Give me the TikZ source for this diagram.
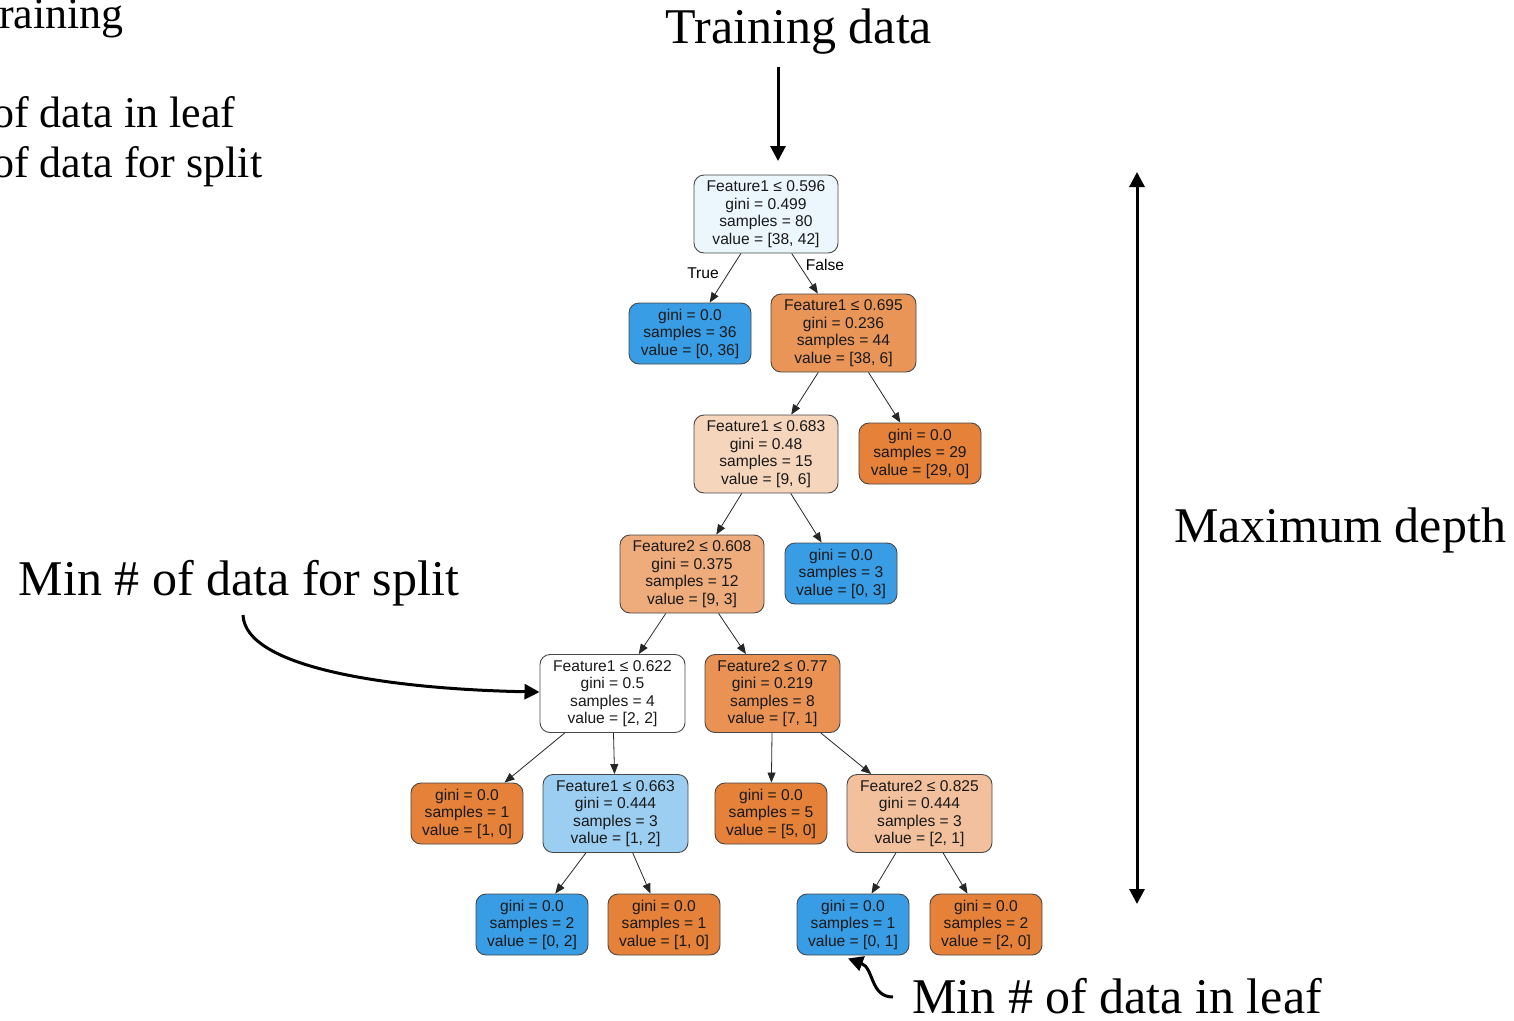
\documentclass[tikz,border=0pt]{standalone}
\usepackage{fontspec}
\setmainfont{Liberation Serif}
\newfontfamily\treefont{Liberation Sans}
\usetikzlibrary{arrows.meta,calc}

% class colours of the fitted tree (sklearn style)
\definecolor{clsA}{HTML}{E58139}
\definecolor{clsB}{HTML}{399DE5}
\definecolor{rootfill}{HTML}{ECF6FD}
\definecolor{fillC}{HTML}{E99558}
\definecolor{fillD}{HTML}{F6D5BD}
\definecolor{fillF}{HTML}{EEAB7B}
\definecolor{fillI}{HTML}{E99254}
\definecolor{fillK}{HTML}{9CCEF2}
\definecolor{fillM}{HTML}{F2C09C}

\begin{document}
\begin{tikzpicture}[x=1pt,y=-1pt,
  treebox/.style={draw=black!72, line width=0.9pt, rounded corners=10pt,
    font=\treefont\fontsize{15.6}{17.5}\selectfont, align=center,
    inner xsep=6pt, inner ysep=2pt, text=black!90},
  splitbox/.style={treebox, minimum width=145pt, minimum height=78pt},
  leafbox/.style={treebox, minimum width=112pt, minimum height=61pt},
  edgelbl/.style={font=\treefont\fontsize{15.6}{17.5}\selectfont, inner sep=0pt},
  treeedge/.style={-{Triangle[length=10pt,width=8pt]}, line width=0.8pt, black!85},
  biglbl/.style={font=\fontsize{50}{60}\selectfont, inner sep=0pt},
  smalllbl/.style={font=\fontsize{44}{52}\selectfont, inner sep=0pt},
  boldarrow/.style={line width=3pt, -{Triangle[length=15pt,width=15pt]}},
  boldboth/.style={line width=3pt, {Triangle[length=15pt,width=15pt]}-{Triangle[length=15pt,width=15pt]}}
]
\useasboundingbox (0,0) rectangle (1514,1020);

% ---- tree nodes ----
\node[splitbox, fill=rootfill, minimum width=144pt] (n1) at (766,214)
  {Feature1 ≤ 0.596\\gini = 0.499\\samples = 80\\value = [38, 42]};
\node[leafbox, fill=clsB, minimum width=122pt] (n2) at (690,333.5)
  {gini = 0.0\\samples = 36\\value = [0, 36]};
\node[splitbox, fill=fillC] (n3) at (843.5,333)
  {Feature1 ≤ 0.695\\gini = 0.236\\samples = 44\\value = [38, 6]};
\node[splitbox, fill=fillD, minimum width=144pt] (n4) at (766,454)
  {Feature1 ≤ 0.683\\gini = 0.48\\samples = 15\\value = [9, 6]};
\node[leafbox, fill=clsA, minimum width=122pt] (n5) at (920,453.5)
  {gini = 0.0\\samples = 29\\value = [29, 0]};
\node[splitbox, fill=fillF, minimum width=144pt] (n6) at (692,574)
  {Feature2 ≤ 0.608\\gini = 0.375\\samples = 12\\value = [9, 3]};
\node[leafbox, fill=clsB] (n7) at (841,573.5)
  {gini = 0.0\\samples = 3\\value = [0, 3]};
\node[splitbox, fill=white] (n8) at (612.5,693.5)
  {Feature1 ≤ 0.622\\gini = 0.5\\samples = 4\\value = [2, 2]};
\node[splitbox, fill=fillI, minimum width=135pt] (n9) at (772.5,693.5)
  {Feature2 ≤ 0.77\\gini = 0.219\\samples = 8\\value = [7, 1]};
\node[leafbox, fill=clsA] (n10) at (467,813.5)
  {gini = 0.0\\samples = 1\\value = [1, 0]};
\node[splitbox, fill=fillK] (n11) at (615.5,813.5)
  {Feature1 ≤ 0.663\\gini = 0.444\\samples = 3\\value = [1, 2]};
\node[leafbox, fill=clsA] (n12) at (771,813.5)
  {gini = 0.0\\samples = 5\\value = [5, 0]};
\node[splitbox, fill=fillM] (n13) at (919.5,813.5)
  {Feature2 ≤ 0.825\\gini = 0.444\\samples = 3\\value = [2, 1]};
\node[leafbox, fill=clsB] (n14) at (532,924.5)
  {gini = 0.0\\samples = 2\\value = [0, 2]};
\node[leafbox, fill=clsA] (n15) at (664,924.5)
  {gini = 0.0\\samples = 1\\value = [1, 0]};
\node[leafbox, fill=clsB] (n16) at (853,924.5)
  {gini = 0.0\\samples = 1\\value = [0, 1]};
\node[leafbox, fill=clsA] (n17) at (986,924.5)
  {gini = 0.0\\samples = 2\\value = [2, 0]};

% ---- tree edges ----
\draw[treeedge] (n1) -- (n2);
\draw[treeedge] (n1) -- (n3);
\draw[treeedge] (n3) -- (n4);
\draw[treeedge] (n3) -- (n5);
\draw[treeedge] (n4) -- (n6);
\draw[treeedge] (n4) -- (n7);
\draw[treeedge] (n6) -- (n8);
\draw[treeedge] (n6) -- (n9);
\draw[treeedge] (n8) -- (n10);
\draw[treeedge] (n8) -- (n11);
\draw[treeedge] (n9) -- (n12);
\draw[treeedge] (n9) -- (n13);
\draw[treeedge] (n11) -- (n14);
\draw[treeedge] (n11) -- (n15);
\draw[treeedge] (n13) -- (n16);
\draw[treeedge] (n13) -- (n17);

\node[edgelbl] (lblTrue) at (703,273) {True};
\node[edgelbl] (lblFalse) at (825,265) {False};

% ---- annotations ----
\node[smalllbl, anchor=base west] (oldA) at (-1,28) {raining};
\node[smalllbl, anchor=base west] (oldB) at (-8,127) {of data in leaf};
\node[smalllbl, anchor=base west] (oldC) at (-8,177) {of data for split};

\node[biglbl, anchor=base] (train) at (799,43) {Training data};
\coordinate (trainA) at (778,67);
\coordinate (trainB) at (778,161);
\draw[boldarrow] (trainA) -- (trainB);

\node[biglbl, anchor=base] (depth) at (1340,542) {Maximum depth};
\coordinate (depthTop) at (1137,172);
\coordinate (depthBot) at (1137,904);
\draw[boldboth] (depthTop) -- (depthBot);

\node[biglbl, anchor=base] (minsplit) at (239,595) {Min \# of data for split};
\coordinate (splitStart) at (243,615);
\draw[boldarrow] (splitStart) .. controls (245,668) and (390,689) .. (n8);

\node[biglbl, anchor=base] (minleaf) at (1117,1013) {Min \# of data in leaf};
\coordinate (leafStart) at (893,997);
\draw[boldarrow] (leafStart) .. controls (870,997) and (874,968) .. ($(n16.south)+(-5,3)$);
\end{tikzpicture}
\end{document}
